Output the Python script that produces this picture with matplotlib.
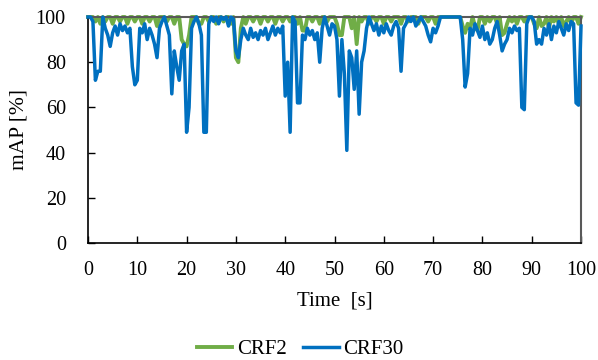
import numpy as np
import matplotlib
matplotlib.use("Agg")
import matplotlib.pyplot as plt

plt.rcParams['font.family'] = ['Liberation Serif', 'DejaVu Serif']

time_s = np.arange(0, 100.5, 0.5)

crf30 = [
    100, 100, 98, 72, 76, 76, 100, 95, 92, 87, 93, 96, 92, 97, 94, 96, 93, 95, 78, 70,
    72, 95, 93, 97, 90, 95, 92, 88, 82, 95, 98, 100, 96, 92, 66, 85, 78, 72, 85, 88,
    49, 60, 95, 98, 100, 97, 92, 49, 49, 97, 100, 98, 100, 97, 100, 99, 100, 96, 100, 99,
    85, 82, 90, 95, 92, 90, 95, 91, 93, 90, 94, 92, 95, 90, 93, 96, 92, 95, 93, 96,
    65, 80, 49, 100, 98, 62, 62, 92, 90, 95, 92, 94, 90, 93, 80, 95, 100, 96, 92, 97,
    96, 90, 65, 90, 75, 41, 85, 82, 68, 85, 57, 80, 85, 95, 100, 97, 94, 97, 92, 96,
    93, 97, 94, 92, 96, 98, 95, 76, 95, 97, 100, 98, 100, 96, 98, 100, 98, 96, 92, 89,
    95, 93, 96, 100, 100, 100, 100, 100, 100, 100, 100, 100, 90, 69, 75, 95, 92, 97, 94, 91,
    96, 90, 93, 88, 90, 95, 98, 92, 85, 88, 90, 95, 93, 96, 94, 95, 60, 59, 97, 100,
    100, 98, 88, 90, 88, 95, 92, 97, 90, 96, 93, 98, 95, 92, 97, 94, 98, 97, 62, 61,
    96,
]

crf2 = [
    100, 100, 100, 98, 100, 97, 100, 98, 100, 100, 97, 100, 100, 98, 100, 100, 97, 100, 100, 98,
    100, 100, 97, 100, 100, 98, 100, 100, 96, 100, 100, 100, 98, 100, 100, 97, 100, 100, 90, 88,
    87, 92, 100, 100, 100, 97, 97, 100, 100, 98, 100, 100, 97, 100, 100, 98, 100, 100, 97, 100,
    82, 80, 95, 100, 97, 100, 100, 98, 100, 100, 97, 100, 100, 98, 100, 100, 97, 100, 100, 98,
    100, 100, 98, 100, 100, 97, 100, 94, 94, 100, 100, 98, 100, 100, 97, 100, 100, 98, 100, 100,
    100, 97, 92, 92, 100, 100, 100, 95, 100, 88, 100, 98, 100, 100, 97, 100, 100, 98, 100, 100,
    97, 100, 100, 98, 100, 100, 100, 97, 100, 100, 98, 100, 100, 100, 97, 100, 100, 100, 98, 100,
    100, 97, 100, 100, 100, 100, 100, 100, 100, 100, 100, 100, 96, 93, 97, 95, 100, 96, 94, 100,
    100, 97, 100, 98, 100, 100, 97, 100, 92, 93, 97, 100, 98, 100, 97, 100, 100, 98, 100, 100,
    100, 97, 95, 100, 96, 97, 100, 95, 100, 98, 100, 97, 100, 96, 98, 100, 97, 100, 100, 97,
    100,
]

x_ticks = [0, 10, 20, 30, 40, 50, 60, 70, 80, 90, 100]
y_ticks = [0, 20, 40, 60, 80, 100]

fig = plt.figure(figsize=(5.98, 3.6), dpi=100)
ax = fig.add_axes([88/598, 1-243/360, (581-88)/598, (243-17)/360])

ax.plot(time_s, crf2, color='#70AD47', lw=2.8, label='CRF2', clip_on=False, zorder=2)
ax.plot(time_s, crf30, color='#0070C0', lw=2.5, label='CRF30', clip_on=False, zorder=3)

ax.set_xlim(0, 100)
ax.set_ylim(0, 100)
ax.set_xticks(x_ticks)
ax.set_yticks(y_ticks)
ax.tick_params(direction='in', length=5, width=1, labelsize=14.5)
ax.tick_params(axis='x', pad=13)
ax.tick_params(axis='y', pad=16)
for s in ['left', 'bottom']:
    ax.spines[s].set_color('#000000')
    ax.spines[s].set_linewidth(1.2)
for s in ['right', 'top']:
    ax.spines[s].set_color('#595959')
    ax.spines[s].set_linewidth(1.5)

ax.set_xlabel('Time  [s]', fontsize=15, labelpad=8)
ax.set_ylabel('mAP [%]', fontsize=15.5, labelpad=5)

fig.legend(loc='center', bbox_to_anchor=(300/598, 1-349/360), ncol=2, frameon=False,
           fontsize=15, handlelength=1.7, handletextpad=0.2, columnspacing=0.8,
           borderpad=0, borderaxespad=0)

fig.savefig('out.png', dpi=100)
